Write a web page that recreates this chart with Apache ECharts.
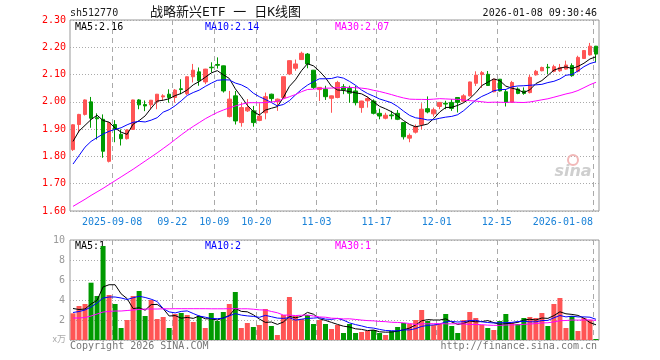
<!DOCTYPE html>
<html><head><meta charset="utf-8">
<script src="https://cdn.jsdelivr.net/npm/echarts@6/dist/echarts.min.js"></script>
<style>html,body{margin:0;padding:0;background:#fff}#c{width:660px;height:360px}</style>
</head><body><div id="c"></div>
<script>
// ---------- data ----------
const dates = [
'2025-08-28','2025-08-29',
'2025-09-01','2025-09-02','2025-09-03','2025-09-04','2025-09-05','2025-09-08','2025-09-09','2025-09-10','2025-09-11','2025-09-12',
'2025-09-15','2025-09-16','2025-09-17','2025-09-18','2025-09-19','2025-09-22','2025-09-23','2025-09-24','2025-09-25','2025-09-26',
'2025-09-29','2025-09-30',
'2025-10-09','2025-10-10','2025-10-13','2025-10-14','2025-10-15','2025-10-16','2025-10-17','2025-10-20','2025-10-21','2025-10-22',
'2025-10-23','2025-10-24','2025-10-27','2025-10-28','2025-10-29','2025-10-30','2025-10-31',
'2025-11-03','2025-11-04','2025-11-05','2025-11-06','2025-11-07','2025-11-10','2025-11-11','2025-11-12','2025-11-13','2025-11-14',
'2025-11-17','2025-11-18','2025-11-19','2025-11-20','2025-11-21','2025-11-24','2025-11-25','2025-11-26','2025-11-27','2025-11-28',
'2025-12-01','2025-12-02','2025-12-03','2025-12-04','2025-12-05','2025-12-08','2025-12-09','2025-12-10','2025-12-11','2025-12-12',
'2025-12-15','2025-12-16','2025-12-17','2025-12-18','2025-12-19','2025-12-22','2025-12-23','2025-12-24','2025-12-25','2025-12-26',
'2025-12-29','2025-12-30','2025-12-31',
'2026-01-05','2026-01-06','2026-01-07','2026-01-08'];

const open  = [1.825,1.917,1.954,2.000,1.942,1.936,1.782,1.917,1.881,1.865,
               1.899,2.007,1.990,1.989,2.000,2.018,2.028,2.016,2.048,2.030,
               2.092,2.110,2.073,2.127,2.137,2.132,1.946,2.022,1.924,1.967,
               1.967,1.932,1.960,2.028,2.000,2.016,2.102,2.123,2.155,2.175,
               2.116,2.045,2.046,2.013,2.016,2.055,2.049,2.040,1.979,2.004,
               2.003,1.958,1.940,1.952,1.958,1.924,1.867,1.889,1.917,1.975,
               1.956,1.983,1.995,1.998,2.016,2.002,2.022,2.068,2.100,2.101,
               2.037,2.083,2.037,1.998,2.047,2.040,2.034,2.099,2.114,2.127,
               2.112,2.114,2.120,2.133,2.112,2.159,2.172,2.204];
const close = [1.916,1.954,2.007,1.940,1.938,1.819,1.924,1.899,1.865,1.897,
               2.007,1.989,1.985,2.006,2.028,2.022,2.016,2.043,2.045,2.092,
               2.116,2.077,2.120,2.125,2.134,2.040,2.010,1.930,1.979,1.979,
               1.924,1.948,2.019,2.012,2.010,2.092,2.151,2.139,2.178,2.139,
               2.053,2.053,2.019,2.022,2.071,2.044,2.032,1.997,2.003,2.012,
               1.958,1.948,1.951,1.949,1.936,1.872,1.877,1.909,1.973,1.963,
               1.971,1.998,1.992,1.976,1.998,2.022,2.073,2.098,2.107,2.060,
               2.083,2.040,1.998,2.071,2.031,2.031,2.090,2.112,2.126,2.125,
               2.129,2.126,2.135,2.096,2.163,2.188,2.204,2.175];
const low   = [1.820,1.887,1.950,1.905,1.862,1.795,1.778,1.852,1.840,1.862,
               1.897,1.973,1.966,1.973,1.973,2.004,1.997,1.997,2.028,2.025,
               2.071,2.059,2.065,2.108,2.122,2.034,1.943,1.917,1.909,1.963,
               1.909,1.929,1.936,2.000,1.967,2.012,2.098,2.114,2.155,2.123,
               2.047,2.003,2.007,1.960,2.013,2.028,1.997,1.987,1.960,1.979,
               1.954,1.936,1.936,1.936,1.933,1.862,1.852,1.884,1.899,1.958,
               1.946,1.973,1.973,1.967,1.961,2.000,2.020,2.058,2.051,2.059,
               2.035,2.038,1.983,1.997,2.028,2.026,2.031,2.096,2.112,2.102,
               2.108,2.110,2.118,2.092,2.108,2.157,2.170,2.145];
const high  = [1.918,1.956,2.009,2.018,1.958,1.954,1.925,1.933,1.899,1.900,
               2.008,2.010,2.005,2.007,2.029,2.028,2.046,2.047,2.083,2.093,
               2.139,2.126,2.121,2.145,2.163,2.133,2.040,2.040,1.997,2.010,
               1.985,1.995,2.034,2.030,2.012,2.093,2.152,2.155,2.184,2.179,
               2.117,2.054,2.059,2.023,2.077,2.065,2.059,2.059,2.004,2.019,
               2.009,1.975,1.960,1.967,1.970,1.925,1.884,1.917,1.995,2.020,
               1.979,1.999,2.004,2.010,2.017,2.028,2.074,2.112,2.113,2.113,
               2.084,2.084,2.047,2.077,2.053,2.053,2.099,2.117,2.129,2.139,
               2.136,2.139,2.151,2.141,2.169,2.190,2.216,2.205];

const volume = [2.67,3.4,3.6,5.73,4.4,9.4,4.5,3.6,1.2,2.0,
                4.4,4.9,2.4,4.0,2.1,2.3,1.2,2.6,2.7,2.5,
                1.8,2.4,1.2,2.7,1.9,2.8,3.6,4.8,1.2,1.7,
                1.3,1.5,3.1,1.4,0.5,2.5,4.3,2.4,2.1,2.5,
                1.6,2.0,1.6,1.1,1.5,0.7,1.6,0.7,0.8,0.9,
                1.0,0.7,0.5,0.9,1.3,1.7,1.6,2.0,3.0,1.9,
                1.5,1.6,2.6,1.4,0.7,2.0,2.8,2.2,1.5,1.2,
                1.0,1.9,2.6,1.7,1.6,2.2,2.3,2.2,2.7,1.4,
                3.6,4.2,1.2,2.4,0.9,2.2,2.0,0.1];

// moving-average values for the days before enough history is visible
const ma5Lead  = [1.855,1.893,1.914,1.935];
const ma10Lead = [1.772,1.803,1.834,1.855,1.869,1.882,1.892,1.899,1.905];
const ma30Lead = [1.617,1.630,1.643,1.657,1.670,1.683,1.697,1.711,1.725,1.739,
                  1.753,1.768,1.783,1.798,1.813,1.829,1.845,1.862,1.879,1.895,
                  1.910,1.924,1.938,1.950,1.961,1.970,1.978,1.985,1.991];
const vma5Lead  = [3.15,3.05,3.1,3.6];
const vma10Lead = [2.75,2.85,3.0,3.3,3.7,4.2,4.3,4.3,4.2];
const vma30Lead = [2.2,2.2,2.25,2.4,2.6,2.8,2.85,2.9,2.9,2.95,
                   3.0,3.05,3.1,3.1,3.1,3.12,3.12,3.13,3.13,3.13,
                   3.13,3.13,3.13,3.12,3.12,3.12,3.13,3.13,3.12];

const tickDates  = ['2025-09-08','2025-09-22','2025-10-09','2025-10-20','2025-11-03','2025-11-17','2025-12-01','2025-12-15','2026-01-08'];
const tickLabels = ['2025-09-08','09-22','10-09','10-20','11-03','11-17','12-01','12-15','2026-01-08'];
const volGridDates = ['2025-09-08','2025-09-22','2025-10-20','2025-11-03','2025-11-17','2025-12-01','2025-12-15','2026-01-08'];
const priceTicks = [1.6,1.7,1.8,1.9,2.0,2.1,2.2,2.3];
const volTicks = [0,2,4,6,8,10];

const legendPrice = ['MA5:2.16','MA10:2.14','MA30:2.07'];
const legendVol   = ['MA5:1','MA10:2','MA30:1'];

// ---------- build ----------
function ma(src, n, lead){
  return src.map((_, i) => {
    if (i < lead.length) return lead[i];
    let s = 0; for (let k = i-n+1; k <= i; k++) s += src[k];
    return +(s/n).toFixed(4);
  });
}
const UP = '#ff5555', DOWN = '#009a00';
const MONO = '"DejaVu Sans Mono", monospace';
const candles = dates.map((d,i)=>[open[i], close[i], low[i], high[i]]);
const vols = volume.map((v,i)=>({value:v, itemStyle:{color: close[i] >= open[i] ? UP : DOWN}}));
const bounds = dates.concat(['__end']);
const tickSet = new Set(tickDates);
const volSet = new Set(volGridDates);

const chart = echarts.init(document.getElementById('c'), null, {renderer:'canvas'});
const gridStyle = {show:true, borderColor:'#999', borderWidth:1, backgroundColor:'transparent'};
const option = {
  animation:false,
  grid:[
    Object.assign({left:70, right:61, top:20, height:191}, gridStyle),
    Object.assign({left:70, right:61, top:240, height:100}, gridStyle)
  ],
  xAxis:[
    {type:'category', gridIndex:0, data:dates, boundaryGap:true, position:'bottom',
     axisLine:{show:false}, axisTick:{show:false}, axisLabel:{show:false}, splitLine:{show:false}},
    {type:'category', gridIndex:0, data:bounds, boundaryGap:false, position:'bottom',
     axisLine:{show:false}, axisTick:{show:false},
     axisLabel:{interval:(i,v)=>tickSet.has(v), margin:6, color:'#1a82d8', fontFamily:MONO, fontSize:10,
       formatter:(v)=>{ const k = tickDates.indexOf(v); if (k<0) return '';
         return k === tickDates.length-1 ? tickLabels[k] + '\u00a0'.repeat(10) : tickLabels[k]; }},
     splitLine:{show:true, interval:(i,v)=>tickSet.has(v), lineStyle:{color:'#aaa', width:1, type:[5,4]}}},
    {type:'category', gridIndex:1, data:dates, boundaryGap:true, position:'bottom',
     axisLine:{show:false}, axisTick:{show:false}, axisLabel:{show:false}, splitLine:{show:false}},
    {type:'category', gridIndex:1, data:bounds, boundaryGap:false, position:'bottom',
     axisLine:{show:false}, axisTick:{show:false}, axisLabel:{show:false},
     splitLine:{show:true, interval:(i,v)=>volSet.has(v), lineStyle:{color:'#aaa', width:1, type:[5,4]}}}
  ],
  yAxis:[
    {type:'value', gridIndex:0, min:priceTicks[0], max:priceTicks[priceTicks.length-1], interval:0.1,
     axisLine:{show:false}, axisTick:{show:false},
     axisLabel:{color:'#ff0000', fontFamily:MONO, fontSize:10, margin:4, formatter:v=>v.toFixed(2)},
     splitLine:{show:true, lineStyle:{color:'#aaa', width:1, type:[1,2]}}},
    {type:'value', gridIndex:1, min:volTicks[0], max:volTicks[volTicks.length-1], interval:2,
     axisLine:{show:false}, axisTick:{show:false},
     axisLabel:{color:'#999', fontFamily:MONO, fontSize:10, margin:5, formatter:v=> v===0 ? '' : String(v)},
     splitLine:{show:true, lineStyle:{color:'#aaa', width:1, type:[1,2]}}}
  ],
  series:[
    {type:'candlestick', xAxisIndex:0, yAxisIndex:0, data:candles, barWidth:4,
     itemStyle:{color:UP, color0:DOWN, borderColor:UP, borderColor0:DOWN, borderWidth:1}},
    {type:'line', xAxisIndex:0, yAxisIndex:0, data:ma(close,5,ma5Lead), symbol:'none', lineStyle:{color:'#000', width:1}},
    {type:'line', xAxisIndex:0, yAxisIndex:0, data:ma(close,10,ma10Lead), symbol:'none', lineStyle:{color:'#0000ff', width:1}},
    {type:'line', xAxisIndex:0, yAxisIndex:0, data:ma(close,30,ma30Lead), symbol:'none', lineStyle:{color:'#ff00ff', width:1}},
    {type:'bar', xAxisIndex:2, yAxisIndex:1, data:vols, barWidth:5},
    {type:'line', xAxisIndex:2, yAxisIndex:1, data:ma(volume,5,vma5Lead), symbol:'none', lineStyle:{color:'#000', width:1}},
    {type:'line', xAxisIndex:2, yAxisIndex:1, data:ma(volume,10,vma10Lead), symbol:'none', lineStyle:{color:'#0000ff', width:1}},
    {type:'line', xAxisIndex:2, yAxisIndex:1, data:ma(volume,30,vma30Lead), symbol:'none', lineStyle:{color:'#ff00ff', width:1}}
  ],
  graphic:[
    {type:'text', x:70, y:13, style:{text:'sh512770', fill:'#222', font:'10px '+MONO, align:'left', verticalAlign:'middle'}},
    {type:'text', x:150, y:13, style:{text:'战略新兴ETF 一 日K线图', fill:'#111', font:'13px "DejaVu Sans Mono", "Noto Sans CJK SC"', align:'left', verticalAlign:'middle'}},
    {type:'text', x:597, y:13, style:{text:'2026-01-08 09:30:46', fill:'#111', font:'10px '+MONO, align:'right', verticalAlign:'middle'}},
    {type:'text', x:75, y:27, style:{text:legendPrice[0], fill:'#000', font:'10px '+MONO, verticalAlign:'middle'}},
    {type:'text', x:205, y:27, style:{text:legendPrice[1], fill:'#0000ff', font:'10px '+MONO, verticalAlign:'middle'}},
    {type:'text', x:335, y:27, style:{text:legendPrice[2], fill:'#ff00ff', font:'10px '+MONO, verticalAlign:'middle'}},
    {type:'text', x:75, y:246, style:{text:legendVol[0], fill:'#000', font:'10px '+MONO, verticalAlign:'middle'}},
    {type:'text', x:205, y:246, style:{text:legendVol[1], fill:'#0000ff', font:'10px '+MONO, verticalAlign:'middle'}},
    {type:'text', x:335, y:246, style:{text:legendVol[2], fill:'#ff00ff', font:'10px '+MONO, verticalAlign:'middle'}},
    {type:'text', x:66, y:339, style:{text:'x万', fill:'#aaa', font:'9px "Noto Sans CJK SC"', align:'right', verticalAlign:'middle'}},
    {type:'text', x:70, y:346, style:{text:'Copyright 2026 SINA.COM', fill:'#777', font:'10px '+MONO, verticalAlign:'middle'}},
    {type:'text', x:597, y:346, style:{text:'http://finance.sina.com.cn', fill:'#777', font:'10px '+MONO, align:'right', verticalAlign:'middle'}},
    {type:'circle', shape:{cx:573, cy:160, r:5}, style:{fill:'none', stroke:'#f2b8b8', lineWidth:2}, z:1},
    {type:'text', x:573, y:172, style:{text:'sina', fill:'#cfcfcf', font:'italic bold 16px "DejaVu Sans"', align:'center', verticalAlign:'middle'}, z:1}
  ]
};
chart.setOption(option);
</script></body></html>
